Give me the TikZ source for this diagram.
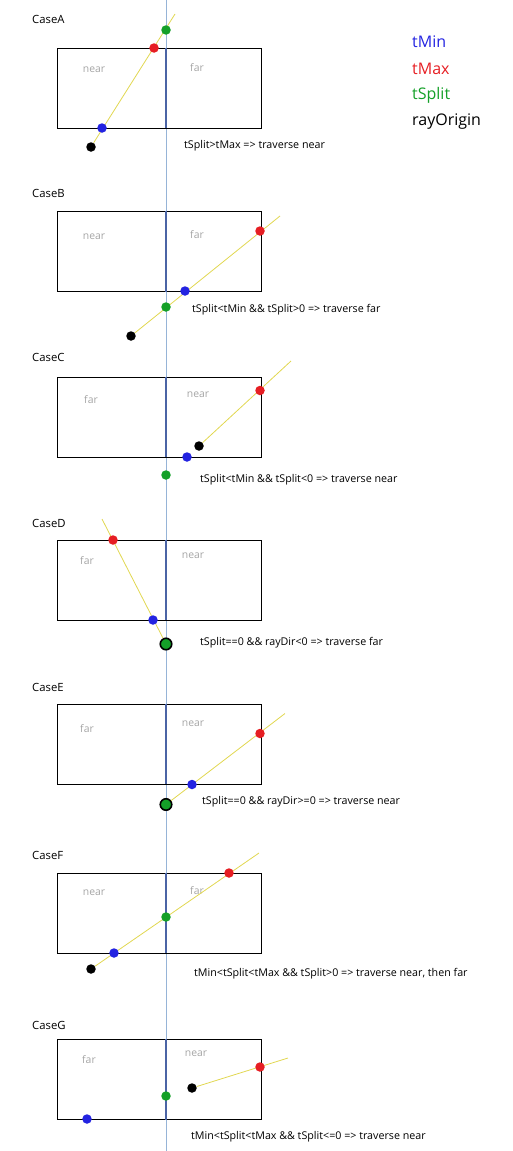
\documentclass[tikz,border=0pt]{standalone}
\usepackage{fontspec}
\setmainfont{Open Sans}
\usetikzlibrary{calc, positioning}

\definecolor{tmin}{RGB}{35,35,225}
\definecolor{tmax}{RGB}{230,30,35}
\definecolor{tsplit}{RGB}{20,160,40}
\definecolor{raycol}{RGB}{225,215,80}
\definecolor{axiscol}{RGB}{150,180,215}
\definecolor{splitcol}{RGB}{75,100,165}
\definecolor{sidecol}{RGB}{165,165,165}

\tikzset{
  cell/.style={draw=black, line width=0.9pt, minimum width=204pt, minimum height=80pt, inner sep=0pt},
  ball/.style={circle, fill=#1, inner sep=0pt, minimum size=9.5pt},
  bigball/.style={circle, fill=tsplit, draw=black, line width=1.6pt, inner sep=0pt, minimum size=11.5pt},
  ray/.style={raycol, line width=0.8pt},
  splitline/.style={splitcol, line width=1.4pt},
  side/.style={text=sidecol, font=\fontsize{10.4}{12}\selectfont},
  caselabel/.style={anchor=west, inner sep=0pt, font=\fontsize{11.3}{13}\selectfont},
  rule/.style={anchor=west, inner sep=0pt, font=\fontsize{10.7}{12}\selectfont},
  legend/.style={anchor=west, inner sep=0pt, font=\fontsize{16}{18}\selectfont}
}

\begin{document}
\begin{tikzpicture}[x=1pt,y=-1pt]
\useasboundingbox (0,0) rectangle (512,1151);

% common split axis
\coordinate (ax) at (166,0);
\coordinate (axb) at (166,1151);
\draw[axiscol, line width=0.6pt] (ax) -- (axb);

% legend
\node[legend, text=tmin] (lgmin) at (412,42) {tMin};
\node[legend, text=tmax] (lgmax) at (412,69) {tMax};
\node[legend, text=tsplit] (lgsplit) at (412,95) {tSplit};
\node[legend] (lgorg) at (412,122) {rayOrigin};

% Case A
\node[caselabel] (labA) at (32,19) {CaseA};
\node[cell] (boxA) at (159,88) {};
\draw[splitline] (boxA.north -| ax) -- (boxA.south -| ax);
\node[side] (nearA) at (94,70) {near};
\node[side] (farA) at (197,68) {far};
\node[ball=black] (orgA) at (91,147) {};
\coordinate (endA) at (175,14);
\draw[ray] (orgA) -- (endA);
\node[ball=tmin] (minA) at (102,128) {};
\node[ball=tmax] (maxA) at (154,48) {};
\node[ball=tsplit] (splA) at (166,30) {};
\node[rule] (ruleA) at (184,146) {tSplit>tMax => traverse near};

% Case B
\node[caselabel] (labB) at (32,193) {CaseB};
\node[cell] (boxB) at (159,251.5) {};
\draw[splitline] (boxB.north -| ax) -- (boxB.south -| ax);
\node[side] (nearB) at (94,237) {near};
\node[side] (farB) at (197,235) {far};
\node[ball=black] (orgB) at (131,336) {};
\coordinate (endB) at (280,216);
\draw[ray] (orgB) -- (endB);
\node[ball=tmin] (minB) at (185,291) {};
\node[ball=tmax] (maxB) at (260,231) {};
\node[ball=tsplit] (splB) at (166,307) {};
\node[rule] (ruleB) at (192,310) {tSplit<tMin \&\& tSplit>0 => traverse far};

% Case C
\node[caselabel] (labC) at (32,357) {CaseC};
\node[cell] (boxC) at (159,417) {};
\draw[splitline] (boxC.north -| ax) -- (boxC.south -| ax);
\node[side] (farC) at (91,400) {far};
\node[side] (nearC) at (198,395) {near};
\node[ball=black] (orgC) at (199,446) {};
\coordinate (endC) at (291,361);
\draw[ray] (orgC) -- (endC);
\node[ball=tmin] (minC) at (187,457) {};
\node[ball=tmax] (maxC) at (260,390.5) {};
\node[ball=tsplit] (splC) at (166,475) {};
\node[rule] (ruleC) at (200,480) {tSplit<tMin \&\& tSplit<0 => traverse near};

% Case D
\node[caselabel] (labD) at (32,523) {CaseD};
\node[cell] (boxD) at (159,580) {};
\draw[splitline] (boxD.north -| ax) -- (boxD.south -| ax);
\node[side] (farD) at (87,561) {far};
\node[side] (nearD) at (193,556) {near};
\coordinate (endD) at (102,519);
\node[bigball] (splD) at (166,644) {};
\draw[ray] (splD) -- (endD);
\node[ball=tmin] (minD) at (153,620) {};
\node[ball=tmax] (maxD) at (113,540) {};
\node[rule] (ruleD) at (200,643) {tSplit==0 \&\& rayDir<0 => traverse far};

% Case E
\node[caselabel] (labE) at (32,687) {CaseE};
\node[cell] (boxE) at (159,744) {};
\draw[splitline] (boxE.north -| ax) -- (boxE.south -| ax);
\node[side] (farE) at (87,729) {far};
\node[side] (nearE) at (193,724) {near};
\coordinate (endE) at (285,713.5);
\node[bigball] (splE) at (166,804.5) {};
\draw[ray] (splE) -- (endE);
\node[ball=tmin] (minE) at (192,784.5) {};
\node[ball=tmax] (maxE) at (260,733.5) {};
\node[rule] (ruleE) at (202,802) {tSplit==0 \&\& rayDir>=0 => traverse near};

% Case F
\node[caselabel] (labF) at (32,855) {CaseF};
\node[cell] (boxF) at (159,913) {};
\draw[splitline] (boxF.north -| ax) -- (boxF.south -| ax);
\node[side] (nearF) at (94,893) {near};
\node[side] (farF) at (197,891) {far};
\node[ball=black] (orgF) at (91,969) {};
\coordinate (endF) at (259,853);
\draw[ray] (orgF) -- (endF);
\node[ball=tmin] (minF) at (114,953) {};
\node[ball=tsplit] (splF) at (166,917) {};
\node[ball=tmax] (maxF) at (229,873) {};
\node[rule] (ruleF) at (194,974) {tMin<tSplit<tMax \&\& tSplit>0 => traverse near, then far};

% Case G
\node[caselabel] (labG) at (32,1025) {CaseG};
\node[cell] (boxG) at (159,1079.5) {};
\draw[splitline] (boxG.north -| ax) -- (boxG.south -| ax);
\node[side] (farG) at (89,1060) {far};
\node[side] (nearG) at (196,1054) {near};
\node[ball=black] (orgG) at (192,1088) {};
\coordinate (endG) at (288,1058);
\draw[ray] (orgG) -- (endG);
\node[ball=tmax] (maxG) at (260,1067) {};
\node[ball=tsplit] (splG) at (166,1096) {};
\node[ball=tmin] (minG) at (87,1119) {};
\node[rule] (ruleG) at (191,1137) {tMin<tSplit<tMax \&\& tSplit<=0 => traverse near};
\end{tikzpicture}
\end{document}
